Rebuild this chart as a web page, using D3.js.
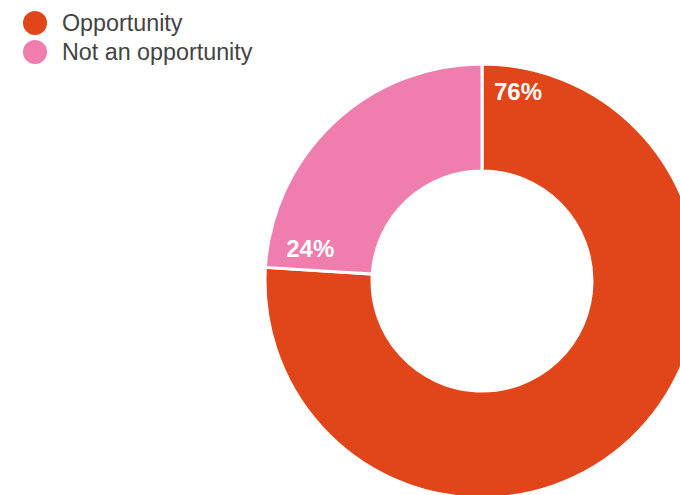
<!DOCTYPE html>
<html>
<head>
<meta charset="utf-8">
<script src="https://cdn.jsdelivr.net/npm/d3@7/dist/d3.min.js"></script>
<style>
  html, body { margin: 0; padding: 0; background: #fff; }
  svg { display: block; font-family: "Liberation Sans", Arial, Helvetica, sans-serif; }
</style>
</head>
<body>
<svg id="chart" width="680" height="495"></svg>
<script>
// Survey answers and their share of responses (percent)
const categories = ["Opportunity", "Not an opportunity"];
const shares = [76, 24];
const colors = ["#E1461A", "#EF7DAE"];

const svg = d3.select("#chart");

const cx = 482, cy = 281;
const outerR = 217, innerR = 110;

const color = d3.scaleOrdinal().domain(categories).range(colors);

const pie = d3.pie()
  .value(d => d.value)
  .sort(null)
  .startAngle(0)
  .endAngle(2 * Math.PI);

const data = categories.map((c, i) => ({ name: c, value: shares[i] }));
const arcs = pie(data);

const arc = d3.arc().innerRadius(innerR).outerRadius(outerR);

const g = svg.append("g").attr("transform", `translate(${cx},${cy})`);

g.selectAll("path.slice")
  .data(arcs)
  .join("path")
  .attr("class", "slice")
  .attr("d", arc)
  .attr("fill", d => color(d.data.name))
  .attr("stroke", "#fff")
  .attr("stroke-width", 3)
  .attr("stroke-linejoin", "miter");

// Percent labels: tucked into the corner of each slice next to its leading edge,
// a fixed gap from that edge and from the outer rim.
const fontSize = 24;
const edgeGap = 12, rimGap = 19;
g.selectAll("text.pct")
  .data(arcs)
  .join("text")
  .attr("class", "pct")
  .attr("text-anchor", "middle")
  .attr("fill", "#fff")
  .attr("font-weight", "bold")
  .attr("font-size", fontSize)
  .text(d => d3.format(".0f")(d.data.value) + "%")
  .each(function (d) {
    const hw = this.getBBox().width / 2;
    const hh = fontSize * 0.716 / 2;
    const a = d.startAngle;
    const u = [Math.sin(a), -Math.cos(a)];   // along the edge, outward
    const t = [Math.cos(a), Math.sin(a)];    // across the edge, into the slice
    const extU = hw * Math.abs(u[0]) + hh * Math.abs(u[1]);
    const extT = hw * Math.abs(t[0]) + hh * Math.abs(t[1]);
    const r = outerR - rimGap - extU;
    const p = edgeGap + extT;
    const x = r * u[0] + p * t[0];
    const y = r * u[1] + p * t[1];
    d3.select(this).attr("x", x).attr("y", y + hh);
  });

// Legend
const legend = svg.append("g").attr("transform", "translate(35,23)");
const items = legend.selectAll("g.item")
  .data(categories)
  .join("g")
  .attr("class", "item")
  .attr("transform", (d, i) => `translate(0,${i * 29})`);

items.append("circle")
  .attr("r", 12)
  .attr("fill", d => color(d));

items.append("text")
  .attr("x", 27)
  .attr("y", 0)
  .attr("dominant-baseline", "central")
  .attr("font-size", 23.3)
  .attr("fill", "#444")
  .text(d => d);
</script>
</body>
</html>
